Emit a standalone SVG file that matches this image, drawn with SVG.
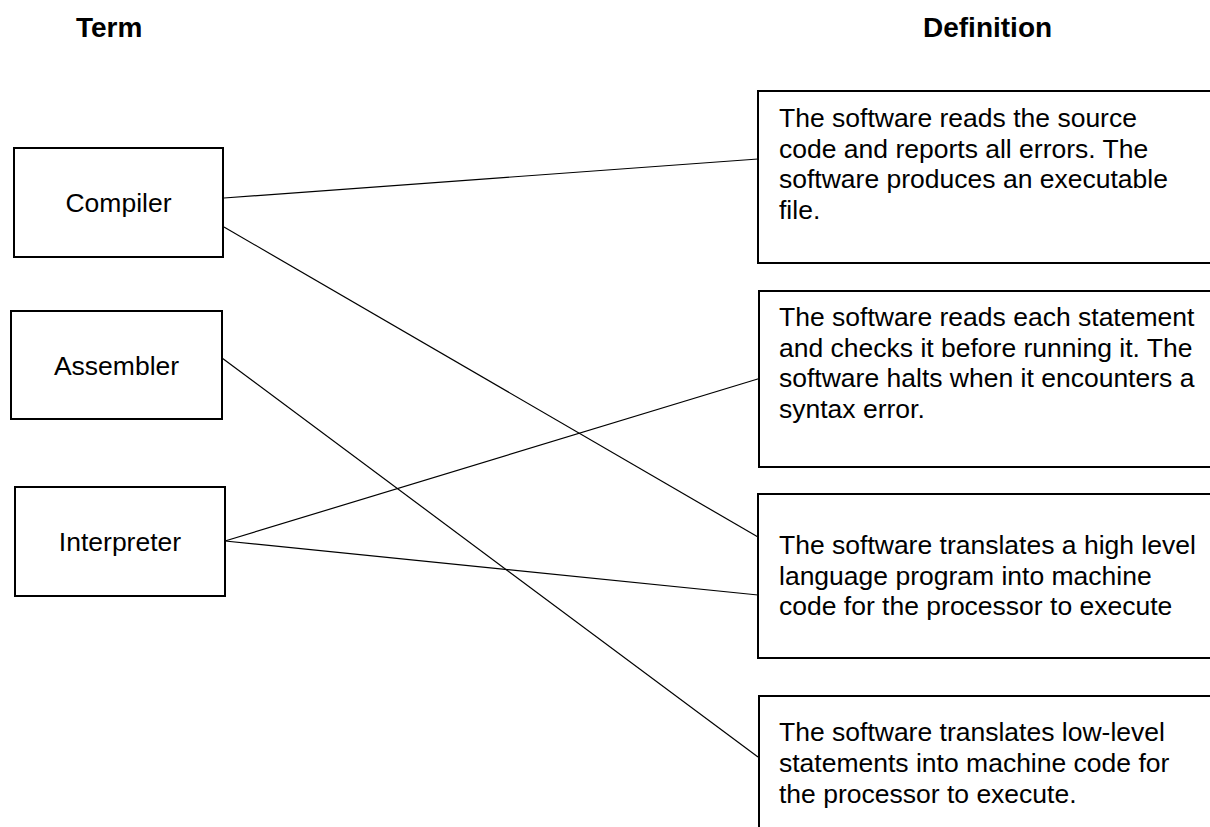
<svg xmlns="http://www.w3.org/2000/svg" width="1210" height="827" viewBox="0 0 1210 827">
<style>
.box{fill:#fff;stroke:#000;stroke-width:2}
.lbl{font-family:"Liberation Sans",Arial,sans-serif;font-size:26.5px;fill:#000}
.c{text-anchor:middle}
.hdr{font-family:"Liberation Sans",Arial,sans-serif;font-size:28px;font-weight:bold;fill:#000}
.con{stroke:#000;stroke-width:1.2;fill:none}
</style>
<rect width="1210" height="827" fill="#fff"/>
<text class="hdr" x="76" y="37">Term</text>
<text class="hdr" x="923" y="37">Definition</text>
<g id="connectors">
<line class="con" x1="224" y1="198" x2="758" y2="159"/>
<line class="con" x1="224" y1="227" x2="758" y2="537"/>
<line class="con" x1="222" y1="358" x2="758" y2="757"/>
<line class="con" x1="225" y1="541" x2="761" y2="378"/>
<line class="con" x1="225" y1="541" x2="758" y2="595"/>
</g>
<g id="compiler">
<rect class="box" x="14" y="148" width="209" height="109"/>
<text class="lbl c" x="118.5" y="212">Compiler</text>
</g>
<g id="assembler">
<rect class="box" x="11" y="311" width="211" height="108"/>
<text class="lbl c" x="116.5" y="375">Assembler</text>
</g>
<g id="interpreter">
<rect class="box" x="15" y="487" width="210" height="109"/>
<text class="lbl c" x="120" y="551">Interpreter</text>
</g>
<g id="def1">
<rect class="box" x="758" y="91" width="460" height="172"/>
<text class="lbl" x="779" y="127">The software reads the source</text>
<text class="lbl" x="779" y="157.5">code and reports all errors. The</text>
<text class="lbl" x="779" y="188">software produces an executable</text>
<text class="lbl" x="779" y="218.5">file.</text>
</g>
<g id="def2">
<rect class="box" x="759" y="291" width="460" height="176"/>
<text class="lbl" x="779" y="326">The software reads each statement</text>
<text class="lbl" x="779" y="356.5">and checks it before running it. The</text>
<text class="lbl" x="779" y="387">software halts when it encounters a</text>
<text class="lbl" x="779" y="417.5">syntax error.</text>
</g>
<g id="def3">
<rect class="box" x="758" y="494" width="460" height="164"/>
<text class="lbl" x="779" y="554">The software translates a high level</text>
<text class="lbl" x="779" y="584.5">language program into machine</text>
<text class="lbl" x="779" y="615">code for the processor to execute</text>
</g>
<g id="def4">
<rect class="box" x="759" y="696" width="460" height="150"/>
<text class="lbl" x="779" y="741">The software translates low-level</text>
<text class="lbl" x="779" y="772">statements into machine code for</text>
<text class="lbl" x="779" y="803">the processor to execute.</text>
</g>
</svg>
